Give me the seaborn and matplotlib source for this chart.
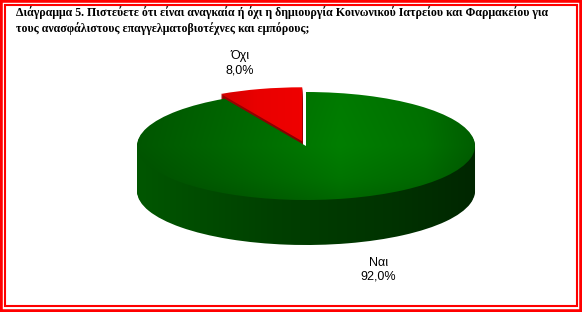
import numpy as np
import matplotlib
matplotlib.use("Agg")
import matplotlib.pyplot as plt
import seaborn as sns
from matplotlib.patches import Rectangle

sns.set_theme(style="white")
plt.rcParams['font.family'] = ['Liberation Sans', 'DejaVu Sans']
plt.rcParams['text.color'] = 'black'

# ---- data ----
categories = ["Όχι", "Ναι"]
values = [8.0, 92.0]
title_lines = ["Διάγραμμα 5. Πιστεύετε ότι είναι αναγκαία ή όχι η δημιουργία Κοινωνικού Ιατρείου και Φαρμακείου για",
               "τους ανασφάλιστους επαγγελματοβιοτέχνες και εμπόρους;"]

top_colors = ["#f00000", "#007800"]
side_colors = ["#8c0000", "#004000"]
explode = [0.09, 0.0]

W, H = 582, 312
fig = plt.figure(figsize=(W / 100, H / 100), dpi=100)
ax = fig.add_axes([0, 0, 1, 1])

# ellipse geometry in pixels
cx, cy = 306, 146          # top centre (from top)
a_px, b_px = 169, 54        # semi axes
depth = 45 / b_px           # side depth in y data units

EXT = (-1.25, 1.25, -2.3, 1.25)
gx = np.linspace(EXT[0], EXT[1], 300)
gy = np.linspace(EXT[2], EXT[3], 300)
GX, GY = np.meshgrid(gx, gy)

# side shading: horizontal gradient, lighter left, darker right
side_shade = np.interp(GX, [-1.0, -0.2, 0.5, 1.0], [1.35, 1.0, 0.8, 0.6])
# top shading: bright around centre-right, darker to the left/back/front
top_shade = np.interp(GX, [-1.0, -0.5, 0.2, 0.7, 1.0], [0.72, 0.85, 1.05, 0.95, 0.78])
top_shade = top_shade * np.interp(GY, [-1.0, -0.6, 0.0, 1.0], [0.82, 0.92, 1.0, 0.97])
red_shade = np.interp(GX, [-0.6, -0.3, 0.0], [0.85, 0.97, 1.0])


def shaded(patch, col, shade):
    rgb = np.array(matplotlib.colors.to_rgb(col))
    img = np.clip(shade[..., None] * rgb[None, None, :], 0, 1)
    im = ax.imshow(img, extent=EXT, origin="lower", interpolation="bilinear",
                   zorder=patch.get_zorder(), aspect="auto")
    im.set_clip_path(patch)
    patch.set_visible(False)


zc = 1
n = 46
for d in np.linspace(depth, 0.0, n)[:-1]:
    ws, _ = ax.pie(values, colors=side_colors, startangle=90, counterclock=True,
                   explode=explode, center=(0, -d), radius=1.0,
                   wedgeprops=dict(linewidth=0))
    for w, col in zip(ws, side_colors):
        w.set_zorder(zc)
        shaded(w, col, side_shade)
    zc += 1
wedges, _ = ax.pie(values, colors=top_colors, startangle=90, counterclock=True,
                   explode=explode, center=(0, 0), radius=1.0,
                   wedgeprops=dict(linewidth=0))
for w, col, sh in zip(wedges, top_colors, [red_shade, top_shade]):
    w.set_zorder(zc)
    shaded(w, col, sh)

# labels
theta = np.deg2rad(90 + np.cumsum([0] + values[:-1]) * 3.6 + np.array(values) * 1.8)
label_r = [1.58, 1.72]
extra_down = [0.0, 0.63]
for cat, v, t, r, e in zip(categories, values, theta, label_r, extra_down):
    txt = f"{cat}\n{v:.1f}%".replace(".", ",")
    ax.text(r * np.cos(t), r * np.sin(t) - e, txt, ha="center", va="center",
            fontsize=9, linespacing=1.2, color="black", zorder=200)

ax.set_aspect("auto")
ax.set_xlim(-cx / a_px, (W - cx) / a_px)
ax.set_ylim(-(H - cy) / b_px, cy / b_px)
ax.axis("off")

# title (fit first line to the reference width)
fs = 9.3
t1 = fig.text(16 / W, 1 - 13 / H, title_lines[0], fontsize=fs, fontweight="bold",
              family=["Liberation Serif", "DejaVu Serif"], va="center", ha="left", color="black")
t2 = fig.text(16 / W, 1 - 29 / H, title_lines[1], fontsize=fs, fontweight="bold",
              family=["Liberation Serif", "DejaVu Serif"], va="center", ha="left", color="black")
fig.canvas.draw()
wpx = t1.get_window_extent().width
new_fs = fs * 532 / wpx
t1.set_fontsize(new_fs)
t2.set_fontsize(new_fs)

# red double frame
fig.patches.append(Rectangle((0, 0), 1, 1, transform=fig.transFigure, fill=False,
                             edgecolor="#ff0000", linewidth=4.0))
fig.patches.append(Rectangle((5 / W, 6 / H), 1 - 10 / W, 1 - 11 / H, transform=fig.transFigure,
                             fill=False, edgecolor="#ff0000", linewidth=1.5))

fig.savefig("out.png", dpi=100, facecolor="white")
